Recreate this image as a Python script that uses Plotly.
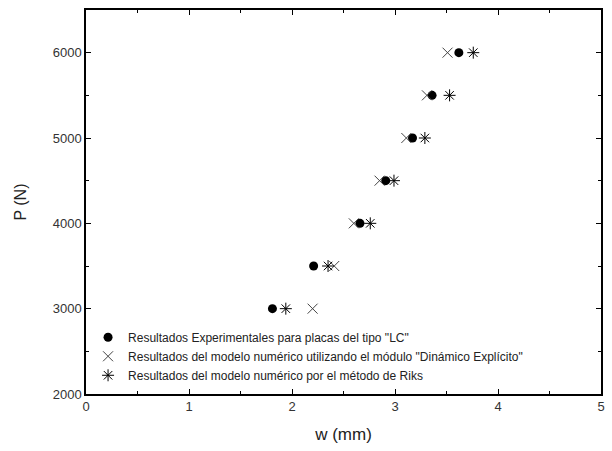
import plotly.graph_objects as go

P_levels = [3000, 3500, 4000, 4500, 5000, 5500, 6000]
w_experimental = [1.81, 2.21, 2.66, 2.91, 3.17, 3.36, 3.62]
w_dinamico = [2.20, 2.41, 2.60, 2.85, 3.11, 3.31, 3.51]
w_riks = [1.94, 2.35, 2.76, 2.99, 3.29, 3.53, 3.76]

names = [
    'Resultados Experimentales para placas del tipo "LC"',
    'Resultados del modelo numérico utilizando el módulo "Dinámico Explícito"',
    'Resultados del modelo numérico por el método de Riks',
]

fig = go.Figure()
fig.add_trace(go.Scatter(x=w_experimental, y=P_levels, mode="markers", name=names[0],
                         marker=dict(symbol="circle", size=9, color="black")))
fig.add_trace(go.Scatter(x=w_dinamico, y=P_levels, mode="markers", name=names[1],
                         marker=dict(symbol="x-thin-open", size=10, color="#444",
                                     line=dict(width=1, color="#444"))))
fig.add_trace(go.Scatter(x=w_riks, y=P_levels, mode="markers", name=names[2],
                         marker=dict(symbol="asterisk-open", size=10, color="black",
                                     line=dict(width=1, color="black"))))

axis_common = dict(
    showgrid=False, zeroline=False, showline=True, linecolor="black", linewidth=1.5,
    mirror="ticks", ticks="inside", ticklen=5, tickwidth=1.2, tickcolor="black",
    tickfont=dict(family="Liberation Sans, Arial", size=13, color="#333"),
)

fig.update_layout(
    width=612, height=451,
    margin=dict(l=86, r=7, t=10, b=57),
    paper_bgcolor="white", plot_bgcolor="white",
    font=dict(family="Liberation Sans, Arial", color="#222"),
    xaxis=dict(range=[0, 5], dtick=1, minor=dict(dtick=0.5, ticks="inside", ticklen=3, tickcolor="black"),
               title=dict(text="w (mm)", font=dict(size=17, color="#222"), standoff=15),
               **axis_common),
    yaxis=dict(range=[2000, 6500], tick0=2000, dtick=1000,
               minor=dict(dtick=500, ticks="inside", ticklen=3, tickcolor="black"),
               title=dict(text="P (N)", font=dict(size=16, color="#222"), standoff=22),
               **axis_common),
    legend=dict(x=0.004, y=0.011, xanchor="left", yanchor="bottom",
                bgcolor="rgba(0,0,0,0)", font=dict(size=12, color="#222"),
                tracegroupgap=0, itemwidth=30),
    showlegend=True,
)

fig.write_html("out.html")
